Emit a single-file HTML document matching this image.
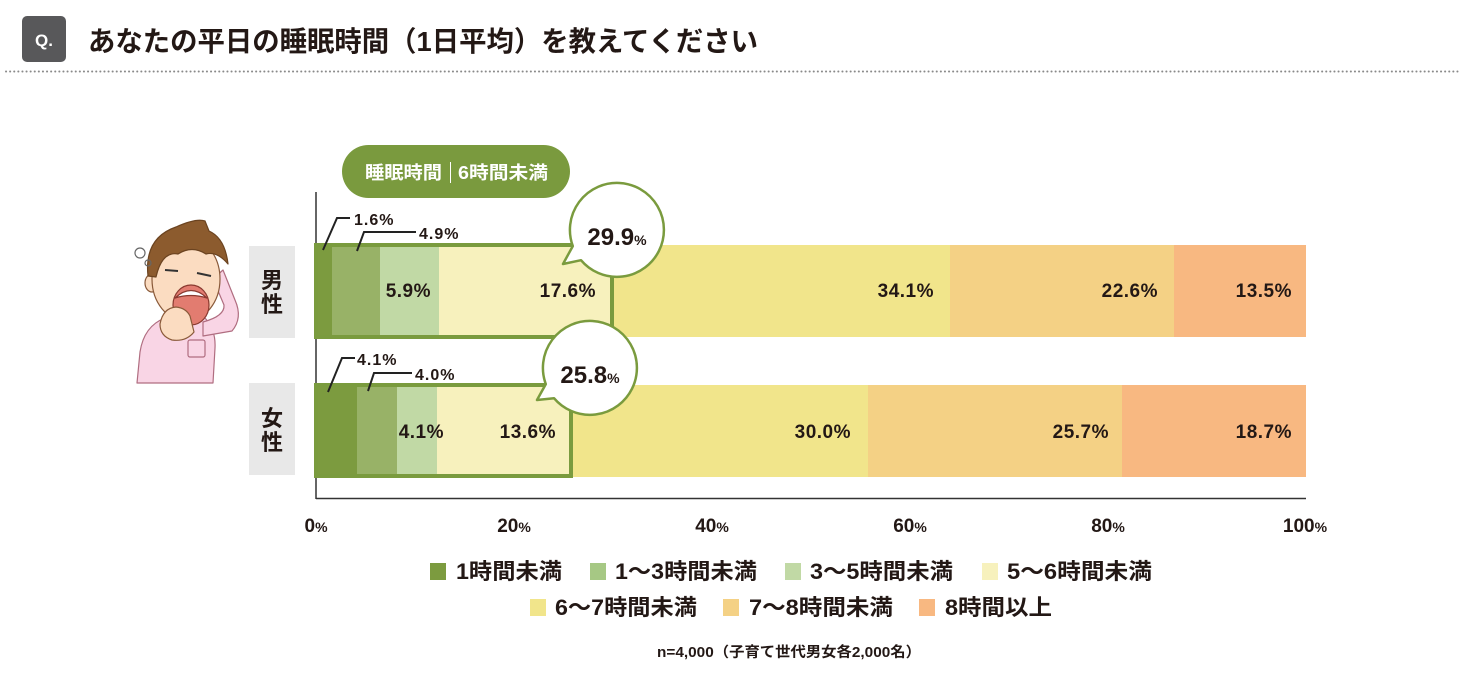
<!DOCTYPE html>
<html><head><meta charset="utf-8"><style>
html,body{margin:0;padding:0;background:#fff;}
svg{display:block;}
text{font-family:"Liberation Sans","Noto Sans CJK JP",sans-serif;font-weight:700;fill:#231815;}
</style></head><body>
<svg width="1464" height="674" viewBox="0 0 1464 674" xmlns="http://www.w3.org/2000/svg">
<!-- Header -->
<rect x="22" y="16" width="44" height="46" rx="5" fill="#58585a"/>
<text x="44" y="46" font-size="17" text-anchor="middle" style="fill:#fff">Q.</text>
<text x="88" y="51" font-size="28" textLength="670" lengthAdjust="spacingAndGlyphs">あなたの平日の睡眠時間（1日平均）を教えてください</text>
<line x1="6" y1="71.5" x2="1460" y2="71.5" stroke="#8a8a8a" stroke-width="2" stroke-dasharray="0.1 4" stroke-linecap="round"/>

<!-- Character -->
<g stroke="#8a5a3a" stroke-width="1.2" stroke-linejoin="round">
  <path d="M137 383 L140 352 Q144 326 165 318 L205 318 Q216 330 215 348 L213 383 Z" fill="#f9d5e5" stroke="#b06d80"/>
  <path d="M203 336 L232 331 Q243 318 235 300 L223 270 L213 279 L224 305 Q225 316 203 322 Z" fill="#f9d5e5" stroke="#b06d80"/>
  <rect x="188" y="340" width="17" height="17" rx="2" fill="none" stroke="#b06d80"/>
  <ellipse cx="152" cy="283" rx="7" ry="9" fill="#fbdcc1"/>
  <ellipse cx="186" cy="279" rx="34" ry="42" fill="#fbdcc1"/>
  <path d="M148 276 Q144 238 176 227 Q196 218 205 221 L209 231 Q225 238 228 264 Q217 251 206 254 Q192 245 178 254 Q162 251 156 277 Z" fill="#8c5b2e" stroke="#6b4320"/>
  <line x1="165" y1="270" x2="178" y2="271" stroke="#333" stroke-width="2"/>
  <line x1="197" y1="273" x2="211" y2="276" stroke="#333" stroke-width="2"/>
  <ellipse cx="191" cy="305" rx="18" ry="20" fill="#e27c70" stroke="#8a3a30"/>
  <path d="M175 298 Q191 283 207 298 Q191 293 175 298 Z" fill="#fff" stroke="#8a3a30"/>
  <path d="M160 324 Q163 308 176 307 Q186 308 190 316 L194 332 Q186 342 172 340 Q160 336 160 324 Z" fill="#fbdcc1"/>
</g>
<circle cx="140" cy="253" r="5" fill="none" stroke="#666" stroke-width="1.2"/>
<circle cx="148" cy="263" r="3" fill="none" stroke="#666" stroke-width="1.2"/>

<!-- Pill label -->
<rect x="342" y="145" width="228" height="53" rx="26.5" fill="#7a9a3e"/>
<text x="365" y="179" font-size="18" textLength="77" lengthAdjust="spacingAndGlyphs" style="fill:#fff">睡眠時間</text>
<line x1="450.5" y1="162" x2="450.5" y2="183" stroke="#fff" stroke-width="1"/>
<text x="458" y="179" font-size="18" textLength="90" lengthAdjust="spacingAndGlyphs" style="fill:#fff">6時間未満</text>

<!-- Row labels -->
<rect x="249" y="246" width="46" height="92" fill="#e8e8e8"/>
<text x="272" y="288" font-size="22" text-anchor="middle">男</text>
<text x="272" y="312" font-size="22" text-anchor="middle">性</text>
<rect x="249" y="383" width="46" height="92" fill="#e8e8e8"/>
<text x="272" y="426" font-size="22" text-anchor="middle">女</text>
<text x="272" y="450" font-size="22" text-anchor="middle">性</text>

<!-- Axes -->
<line x1="316" y1="192" x2="316" y2="499" stroke="#333" stroke-width="1.5"/>
<line x1="316" y1="498.5" x2="1306" y2="498.5" stroke="#333" stroke-width="1.5"/>

<!-- Male bar -->
<rect x="314" y="245" width="18" height="92" fill="#7c9b3f"/>
<rect x="332" y="245" width="48" height="92" fill="#98b267"/>
<rect x="380" y="245" width="59" height="92" fill="#c1d9a5"/>
<rect x="439" y="245" width="174" height="92" fill="#f7f1bd"/>
<rect x="613" y="245" width="337" height="92" fill="#f1e58b"/>
<rect x="950" y="245" width="224" height="92" fill="#f4d185"/>
<rect x="1174" y="245" width="132" height="92" fill="#f8b881"/>
<rect x="316" y="245" width="296" height="92" fill="none" stroke="#7a9b3e" stroke-width="4"/>

<!-- Female bar -->
<rect x="314" y="385" width="43" height="92" fill="#7c9b3f"/>
<rect x="357" y="385" width="40" height="92" fill="#98b267"/>
<rect x="397" y="385" width="40" height="92" fill="#c1d9a5"/>
<rect x="437" y="385" width="134" height="92" fill="#f7f1bd"/>
<rect x="571" y="385" width="297" height="92" fill="#f1e58b"/>
<rect x="868" y="385" width="254" height="92" fill="#f4d185"/>
<rect x="1122" y="385" width="184" height="92" fill="#f8b881"/>
<rect x="316" y="385" width="255" height="91" fill="none" stroke="#7a9b3e" stroke-width="4"/>

<!-- Data labels -->
<g font-size="19" text-anchor="end" letter-spacing="0.5">
<text x="431" y="297">5.9%</text>
<text x="596" y="297">17.6%</text>
<text x="934" y="297">34.1%</text>
<text x="1158" y="297">22.6%</text>
<text x="1292" y="297">13.5%</text>
<text x="444" y="438">4.1%</text>
<text x="556" y="438">13.6%</text>
<text x="851" y="438">30.0%</text>
<text x="1109" y="438">25.7%</text>
<text x="1292" y="438">18.7%</text>
</g>

<!-- Leader lines -->
<g fill="none" stroke="#222" stroke-width="2">
  <path d="M323 250 L337 218 L350 218"/>
  <path d="M357 251 L364 232 L416 232"/>
  <path d="M328 392 L342 358 L355 358"/>
  <path d="M368 391 L374 373 L412 373"/>
</g>
<g font-size="16" letter-spacing="1">
<text x="354" y="225">1.6%</text>
<text x="419" y="239">4.9%</text>
<text x="357" y="365">4.1%</text>
<text x="415" y="380">4.0%</text>
</g>

<!-- Bubbles -->
<path d="M581 260.2 A47 47 0 1 0 572.8 246.1 L563 264 Z" fill="#fff" stroke="#7a9b3e" stroke-width="2.5" stroke-linejoin="round"/>
<text x="617" y="245" text-anchor="middle"><tspan font-size="24">29.9</tspan><tspan font-size="14">%</tspan></text>
<path d="M554 398.2 A47 47 0 1 0 545.8 384.1 L537 400 Z" fill="#fff" stroke="#7a9b3e" stroke-width="2.5" stroke-linejoin="round"/>
<text x="590" y="383" text-anchor="middle"><tspan font-size="24">25.8</tspan><tspan font-size="14">%</tspan></text>

<!-- Tick labels -->
<g text-anchor="middle">
<text x="316" y="532"><tspan font-size="19">0</tspan><tspan font-size="14">%</tspan></text>
<text x="514" y="532"><tspan font-size="19">20</tspan><tspan font-size="14">%</tspan></text>
<text x="712" y="532"><tspan font-size="19">40</tspan><tspan font-size="14">%</tspan></text>
<text x="910" y="532"><tspan font-size="19">60</tspan><tspan font-size="14">%</tspan></text>
<text x="1108" y="532"><tspan font-size="19">80</tspan><tspan font-size="14">%</tspan></text>
<text x="1305" y="532"><tspan font-size="19">100</tspan><tspan font-size="14">%</tspan></text>
</g>

<!-- Legend -->
<rect x="430" y="563" width="16" height="17" fill="#7c9b3f"/>
<text x="456" y="579" font-size="22" textLength="106" lengthAdjust="spacingAndGlyphs">1時間未満</text>
<rect x="590" y="563" width="16" height="17" fill="#a6c884"/>
<text x="615" y="579" font-size="22" textLength="142" lengthAdjust="spacingAndGlyphs">1〜3時間未満</text>
<rect x="785" y="563" width="16" height="17" fill="#c1d9a5"/>
<text x="810" y="579" font-size="22" textLength="143" lengthAdjust="spacingAndGlyphs">3〜5時間未満</text>
<rect x="982" y="563" width="16" height="17" fill="#f7f1bd"/>
<text x="1007" y="579" font-size="22" textLength="145" lengthAdjust="spacingAndGlyphs">5〜6時間未満</text>
<rect x="530" y="599" width="16" height="17" fill="#f1e58b"/>
<text x="555" y="615" font-size="22" textLength="142" lengthAdjust="spacingAndGlyphs">6〜7時間未満</text>
<rect x="723" y="599" width="16" height="17" fill="#f4d185"/>
<text x="749" y="615" font-size="22" textLength="144" lengthAdjust="spacingAndGlyphs">7〜8時間未満</text>
<rect x="919" y="599" width="16" height="17" fill="#f8b881"/>
<text x="945" y="615" font-size="22" textLength="107" lengthAdjust="spacingAndGlyphs">8時間以上</text>

<!-- Footnote -->
<text x="657" y="657" font-size="14.5" textLength="264" lengthAdjust="spacingAndGlyphs">n=4,000（子育て世代男女各2,000名）</text>
</svg>
</body></html>
